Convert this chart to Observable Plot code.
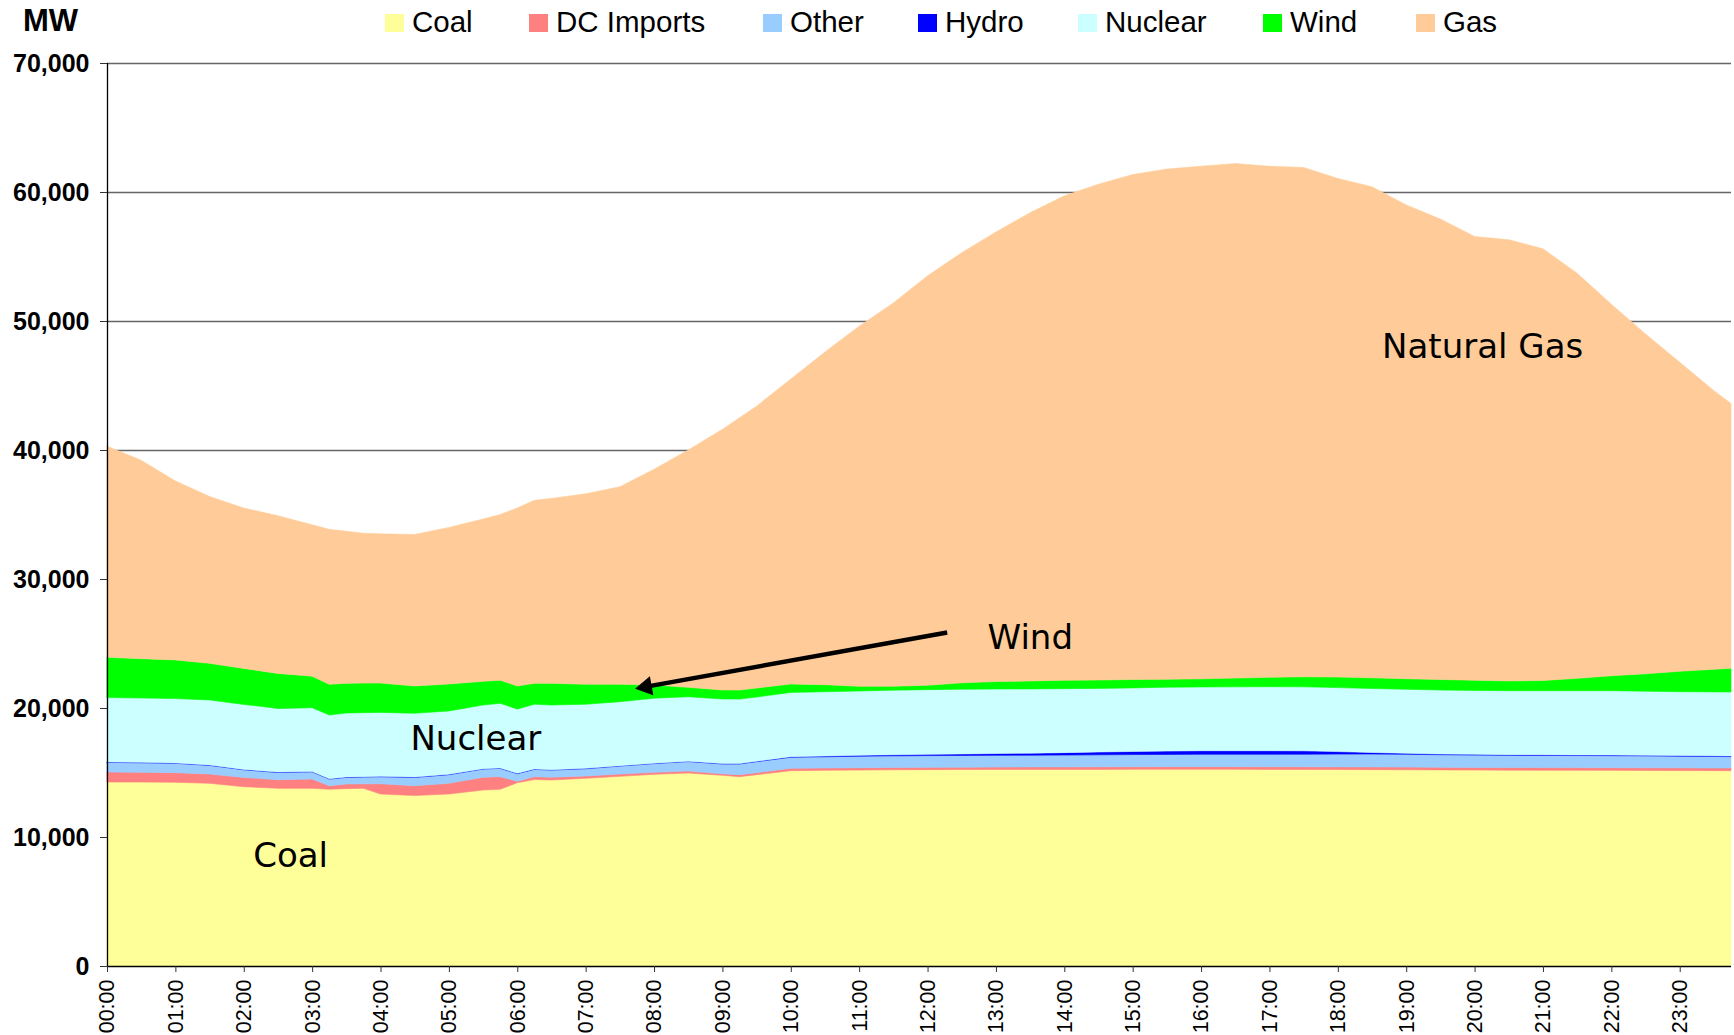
<!DOCTYPE html>
<html>
<head>
<meta charset="utf-8">
<script src="https://cdn.jsdelivr.net/npm/d3@7"></script>
<script src="https://cdn.jsdelivr.net/npm/@observablehq/plot@0.6"></script>
<style>
html, body { margin: 0; padding: 0; background: #fff; }
#wrap { width: 1734px; height: 1035px; overflow: hidden; background: #fff; }
#wrap svg { display: block; }
</style>
</head>
<body>
<div id="wrap"></div>
<script>
// ---- data (MW) ----
const times = ["00:00","00:30","01:00","01:30","02:00","02:30","03:00","03:15","03:30","03:45",
  "04:00","04:30","05:00","05:30","05:45","06:00","06:15","06:30","07:00","07:30",
  "08:00","08:30","09:00","09:15","09:30","10:00","10:30","11:00","11:30","12:00",
  "12:30","13:00","13:30","14:00","14:30","15:00","15:30","16:00","16:30","17:00",
  "17:30","18:00","18:30","19:00","19:30","20:00","20:30","21:00","21:30","22:00",
  "22:30","23:00","23:30","23:45"];
const coal = [14260,14260,14240,14160,13900,13770,13770,13700,13750,13770,
  13330,13210,13330,13640,13700,14210,14450,14420,14550,14700,
  14860,14960,14780,14680,14830,15140,15170,15190,15210,15220,
  15230,15240,15240,15240,15240,15245,15245,15245,15245,15240,
  15235,15230,15220,15210,15200,15190,15180,15175,15170,15165,
  15160,15150,15145,15140];
const dcImports = [780,750,750,720,720,670,720,280,360,350,
  800,770,830,990,980,110,230,210,180,180,
  150,150,120,150,160,180,180,180,180,180,
  180,180,190,190,200,200,205,205,205,205,
  205,205,210,210,200,205,210,210,210,210,
  205,210,205,210];
const other = [745,745,720,670,590,560,560,510,510,530,
  540,640,670,640,640,590,560,560,560,620,
  680,740,760,830,850,860,870,890,900,910,
  910,910,910,920,930,945,950,960,960,965,
  975,990,1000,990,980,955,940,935,935,930,
  925,900,890,880];
const hydro = [30,30,30,30,30,30,30,30,30,30,
  30,30,30,30,30,30,30,30,30,30,
  30,30,30,30,30,50,60,70,90,100,
  120,140,160,190,220,240,260,280,280,280,
  265,195,120,80,55,60,55,55,50,50,
  50,55,50,50];
const nuclear = [4990,4990,4990,5040,5040,4940,4940,4940,4960,4960,
  4960,4940,4910,4930,5010,4980,5020,5010,4970,4960,
  5040,4990,5010,5000,4980,4980,4980,4990,5000,5010,
  5010,5000,4980,4960,4930,4930,4950,4940,4950,4960,
  4960,4960,4960,4960,4955,4950,4955,4965,4975,4985,
  4960,4950,4960,4960];
const wind = [3125,3050,3000,2840,2790,2710,2450,2380,2300,2290,
  2270,2120,2090,1840,1790,1790,1620,1680,1550,1350,
  1020,730,700,700,700,650,550,360,310,340,
  500,580,620,650,650,650,620,630,680,730,
  780,820,830,820,820,790,760,790,960,1160,
  1350,1585,1750,1840];
const gas = [16370,15375,13870,12940,12430,12220,11730,12010,11790,11620,
  11570,11740,12140,12580,12850,13790,14190,14340,14760,15310,
  16720,18400,20200,21110,21850,23640,25790,27920,29710,31740,
  33350,34850,36300,37550,38430,39140,39550,39740,39880,39620,
  39480,38650,38060,36730,35690,34400,34200,33470,31400,28800,
  26350,23950,21600,20520];

const seriesNames = ["Coal","DC Imports","Other","Hydro","Nuclear","Wind","Gas"];
const seriesColors = ["#FFFF99","#FF8080","#99CCFF","#0000FF","#CCFFFF","#00FF00","#FFCC99"];
const yTicks = [0,10000,20000,30000,40000,50000,60000,70000];
const xTickHours = [0,1,2,3,4,5,6,7,8,9,10,11,12,13,14,15,16,17,18,19,20,21,22,23];
const xTickLabels = ["00:00","01:00","02:00","03:00","04:00","05:00","06:00","07:00","08:00","09:00","10:00","11:00",
  "12:00","13:00","14:00","15:00","16:00","17:00","18:00","19:00","20:00","21:00","22:00","23:00"];
const annoLabels = ["Natural Gas","Wind","Nuclear","Coal"];
const annoHour = [18.64,12.87,4.43,2.13];
const annoValue = [47200,24650,16750,7750];
const arrowFrom = {h: 12.28, v: 25890};
const arrowTo = {h: 7.80, v: 21620};
const arrowHead = {h: 7.877, v: 21690};

// ---- build ----
const toHour = s => { const [h, m] = s.split(":").map(Number); return h + m / 60; };
const hours = times.map(toHour);
const columns = [coal, dcImports, other, hydro, nuclear, wind, gas];
const tidy = [];
seriesNames.forEach((name, i) => hours.forEach((t, j) => tidy.push({t, s: name, v: columns[i][j]})));
const annos = annoLabels.map((label, i) => ({label, h: annoHour[i], v: annoValue[i]}));

const wrap = document.getElementById("wrap");

// legend (above the plot)
const legendX = [385,529,763,918,1078,1263,1416];
const leg = d3.create("svg").attr("width", 1734).attr("height", 45)
  .style("font-family", "'Liberation Sans', Arial, sans-serif");
leg.append("text").attr("x", 23).attr("y", 31).attr("font-size", 31).attr("font-weight", "bold").text("MW");
seriesNames.forEach((name, i) => {
  leg.append("rect").attr("x", legendX[i]).attr("y", 14).attr("width", 19).attr("height", 18).attr("fill", seriesColors[i]);
  leg.append("text").attr("x", legendX[i] + 27).attr("y", 32).attr("font-size", 29.5).attr("fill", "#000").text(name);
});
wrap.appendChild(leg.node());

const chart = Plot.plot({
  width: 1734,
  height: 990,
  marginTop: 18,
  marginBottom: 69,
  marginLeft: 107,
  marginRight: 3,
  style: {fontFamily: "'Liberation Sans', Arial, sans-serif", fontSize: "21px", background: "#fff", overflow: "visible"},
  x: {domain: [0, 23.75]},
  y: {domain: [0, 70000]},
  color: {domain: seriesNames, range: seriesColors},
  marks: [
    Plot.ruleY(yTicks.slice(1), {stroke: "#666", strokeWidth: 1.4}),
    Plot.areaY(tidy, {x: "t", y: "v", z: "s", fill: "s", stroke: "s", strokeWidth: 0.6, order: seriesNames, curve: "linear"}),
    Plot.ruleX([0], {stroke: "#000", strokeWidth: 1.3}),
    Plot.ruleY([0], {stroke: "#000", strokeWidth: 1.6}),
    Plot.axisY({ticks: yTicks, tickSize: 7, tickPadding: 11, tickFormat: d3.format(","),
      fontSize: 25, fontWeight: "bold", label: null, stroke: "#333"}),
    Plot.axisX({ticks: xTickHours, tickSize: 6, tickPadding: 7, tickRotate: -90,
      tickFormat: d => xTickLabels[xTickHours.indexOf(d)], fontSize: 21.5, label: null, stroke: "#333"}),
    Plot.text(annos, {x: "h", y: "v", text: "label", textAnchor: "start", lineAnchor: "bottom",
      fontFamily: "'DejaVu Sans', Verdana, sans-serif", fontSize: 34, fill: "#000"}),
    Plot.link([{}], {x1: () => arrowFrom.h, y1: () => arrowFrom.v, x2: () => arrowTo.h, y2: () => arrowTo.v,
      stroke: "#000", strokeWidth: 4.5}),
    Plot.dot([{}], {x: () => arrowHead.h, y: () => arrowHead.v, symbol: "triangle", r: 6.5,
      rotate: 259.8, fill: "#000", stroke: "#000", strokeWidth: 1})
  ]
});
wrap.appendChild(chart);
</script>
</body>
</html>
